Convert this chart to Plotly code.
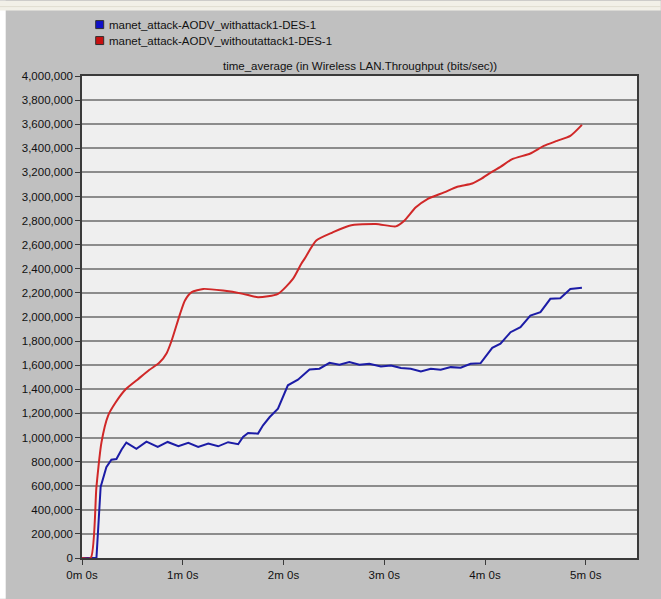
import plotly.graph_objects as go

# ---------------- data ----------------
red_name = "manet_attack-AODV_withoutattack1-DES-1"
blue_name = "manet_attack-AODV_withattack1-DES-1"

red_t = [0, 5.2, 8.6, 11.6, 15.5, 20, 26, 33, 40, 46, 50.4, 53.4, 58.4, 61.3, 65.3,
         72.2, 84, 95.9, 104.8, 116.7, 125.6, 130.5, 132.5, 139.5, 149.3, 159.2, 175,
         186.9, 191.9, 198.8, 205.7, 215.6, 223.5, 232.4, 237.4, 244.3, 249.2, 256.2,
         267, 275, 282.9, 290.8, 297.7]
red_v = [0, 0, 590000, 960000, 1180000, 1290000, 1400000, 1480000, 1560000, 1620000,
         1700000, 1805000, 2026000, 2137000, 2206000, 2233000, 2219000, 2192000, 2164000,
         2192000, 2316000, 2440000, 2482000, 2634000, 2702000, 2758000, 2772000, 2752000,
         2799000, 2910000, 2979000, 3034000, 3081000, 3108000, 3144000, 3207000, 3246000,
         3310000, 3357000, 3420000, 3462000, 3503000, 3594000]

blue_t = [0, 8.6, 11.1, 14.5, 17.5, 20.5, 23.6, 26.4, 32.4, 38.4, 45.1, 51, 57.4, 63.3,
          69.2, 75.2, 81.1, 87, 93, 95.9, 98.9, 104.8, 107.8, 111.8, 116.7, 122.6, 128.6,
          135.5, 141.4, 147.4, 153.3, 159.2, 165.2, 171.1, 178, 184, 189.9, 195.8, 201.8,
          207.7, 213.6, 219.6, 225.5, 231.4, 237.4, 244.3, 249.2, 255.2, 261.1, 267, 273,
          278.9, 284.8, 290.8, 297.7]
blue_v = [0, 0, 590000, 754000, 815000, 821000, 900000, 958000, 906000, 966000, 922000,
          963000, 927000, 955000, 922000, 950000, 927000, 961000, 944000, 1005000, 1038000,
          1032000, 1101000, 1170000, 1240000, 1433000, 1480000, 1565000, 1571000, 1620000,
          1604000, 1626000, 1604000, 1612000, 1590000, 1598000, 1576000, 1571000, 1549000,
          1571000, 1562000, 1584000, 1579000, 1612000, 1617000, 1744000, 1778000, 1874000,
          1916000, 2012000, 2040000, 2151000, 2156000, 2233000, 2242000]

x_tick_vals = [0, 60, 120, 180, 240, 300]
x_tick_text = ["0m 0s", "1m 0s", "2m 0s", "3m 0s", "4m 0s", "5m 0s"]
y_tick_vals = list(range(0, 4000001, 200000))

title_text = "time_average (in Wireless LAN.Throughput (bits/sec))"

# ---------------- layout geometry ----------------
W, H = 661, 599
L, R, T, B = 82.3, 637.3, 75.5, 558.3
FONT = "Liberation Sans, Arial, sans-serif"


def px(xp):
    return (xp - L) / (R - L)


def py(yp):
    return (B - yp) / (B - T)


fig = go.Figure()
fig.add_trace(go.Scatter(x=blue_t, y=blue_v, mode="lines", name=blue_name,
                         line=dict(color="#1c1ca6", width=2), showlegend=False))
fig.add_trace(go.Scatter(x=red_t, y=red_v, mode="lines", name=red_name,
                         line=dict(color="#d02828", width=2, shape="spline", smoothing=0.6),
                         showlegend=False))

shapes = [
    # white left strip and off-white top strip
    dict(type="rect", xref="paper", yref="paper", x0=px(0), x1=px(6), y0=py(H), y1=py(0),
         fillcolor="#ffffff", line=dict(width=0), layer="below"),
    dict(type="rect", xref="paper", yref="paper", x0=px(0), x1=px(W), y0=py(10), y1=py(0),
         fillcolor="#f2f0e8", line=dict(width=0), layer="below"),
    dict(type="line", xref="paper", yref="paper", x0=px(0), x1=px(W), y0=py(6), y1=py(6),
         line=dict(color="#e0ddd0", width=1), layer="below"),
]
annotations = [
    dict(text=title_text, xref="paper", yref="paper", x=0.5, y=py(65), showarrow=False,
         xanchor="center", yanchor="middle", font=dict(family=FONT, size=11.5, color="#111111")),
]
legend_items = [(blue_name, "#1010c8", 24), (red_name, "#c81010", 40)]
for name, col, yc in legend_items:
    shapes.append(dict(type="rect", xref="paper", yref="paper",
                       x0=px(96), x1=px(104), y0=py(yc + 4), y1=py(yc - 4),
                       fillcolor=col, line=dict(color="#303030", width=1)))
    annotations.append(dict(text=name, xref="paper", yref="paper", x=px(107), y=py(yc),
                            showarrow=False, xanchor="left", yanchor="middle",
                            font=dict(family=FONT, size=11.5, color="#111111")))

fig.update_layout(
    width=W, height=H,
    margin=dict(l=L, r=W - R, t=T, b=H - B, pad=0),
    paper_bgcolor="#c0c0c0",
    plot_bgcolor="#efefef",
    font=dict(family=FONT, size=11.5, color="#111111"),
    shapes=shapes,
    annotations=annotations,
    showlegend=False,
)
fig.update_xaxes(range=[0, 330.5], tickvals=x_tick_vals, ticktext=x_tick_text,
                 showgrid=False, zeroline=False, showline=True, mirror=True,
                 linecolor="#3a3a3a", linewidth=1.5, ticks="outside", ticklen=5,
                 tickcolor="#3a3a3a", tickwidth=1, fixedrange=True)
fig.update_yaxes(range=[0, 4000000], tickvals=y_tick_vals, tickformat=",d",
                 showgrid=True, gridcolor="#8c8c8c", gridwidth=1.5, zeroline=False,
                 showline=True, mirror=True, linecolor="#3a3a3a", linewidth=1.5,
                 ticks="outside", ticklen=5, tickcolor="#3a3a3a", tickwidth=1,
                 fixedrange=True)

fig.write_html("out.html")
